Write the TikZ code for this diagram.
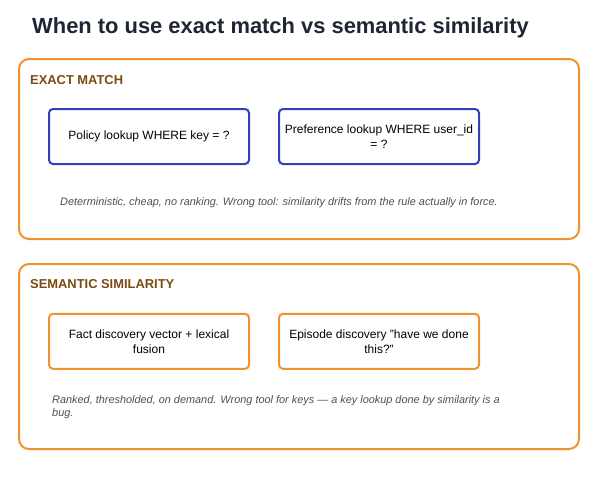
\documentclass[tikz,border=0pt]{standalone}
\usepackage{fontspec}
\setmainfont{Liberation Sans}
\usetikzlibrary{positioning}

\definecolor{titleink}{HTML}{1E2633}
\definecolor{frameorange}{HTML}{F0922F}
\definecolor{headbrown}{HTML}{7A4A12}
\definecolor{exactblue}{HTML}{3341B8}
\definecolor{notegray}{HTML}{4A4F5A}

\tikzset{
  panel/.style={draw=frameorange, line width=2pt, rounded corners=10pt,
    minimum width=560pt, inner sep=0pt, outer sep=0pt},
  panelhead/.style={anchor=base west, inner sep=0pt, text=headbrown,
    font=\bfseries\fontsize{12.9}{15}\selectfont},
  lookup/.style={draw, line width=2pt, rounded corners=4pt, fill=white,
    minimum width=200pt, minimum height=55pt, inner sep=0pt, outer sep=0pt,
    align=center, font=\fontsize{12}{15}\selectfont},
  note/.style={anchor=base west, inner sep=0pt, align=left, text=notegray,
    font=\itshape\fontsize{10.9}{12.8}\selectfont}
}

\begin{document}
\begin{tikzpicture}[x=1pt,y=-1pt]
  \useasboundingbox (0,0) rectangle (604,479);

  % Title
  \node[anchor=base west, inner sep=0pt, text=titleink,
    font=\bfseries\fontsize{21.9}{26}\selectfont] (title) at (32,33.3)
    {When to use exact match vs semantic similarity};

  % Exact match panel
  \node[panel, minimum height=180pt] (exact) at (299,149) {};
  \node[panelhead] (exacthead) at (30,84) {EXACT MATCH};
  \node[lookup, draw=exactblue] (policy) at (149,136.5) {Policy lookup WHERE key = ?};
  \node[lookup, draw=exactblue, right=30pt of policy] (pref)
    {Preference lookup WHERE user\_id\\= ?};
  \node[note] (exactnote) at (60,205)
    {Deterministic, cheap, no ranking. Wrong tool: similarity drifts from the rule actually in force.};

  % Semantic similarity panel
  \node[panel, minimum height=185pt] (semantic) at (299,356.5) {};
  \node[panelhead] (semhead) at (30,288.5) {SEMANTIC SIMILARITY};
  \node[lookup, draw=frameorange] (fact) at (149,341.3) {Fact discovery vector + lexical\\fusion};
  \node[lookup, draw=frameorange, right=30pt of fact] (episode)
    {Episode discovery "have we done\\this?"};
  \node[note] (semnote) at (52,416)
    {Ranked, thresholded, on demand. Wrong tool for keys --- a key lookup done by similarity is a\\bug.};
\end{tikzpicture}
\end{document}
